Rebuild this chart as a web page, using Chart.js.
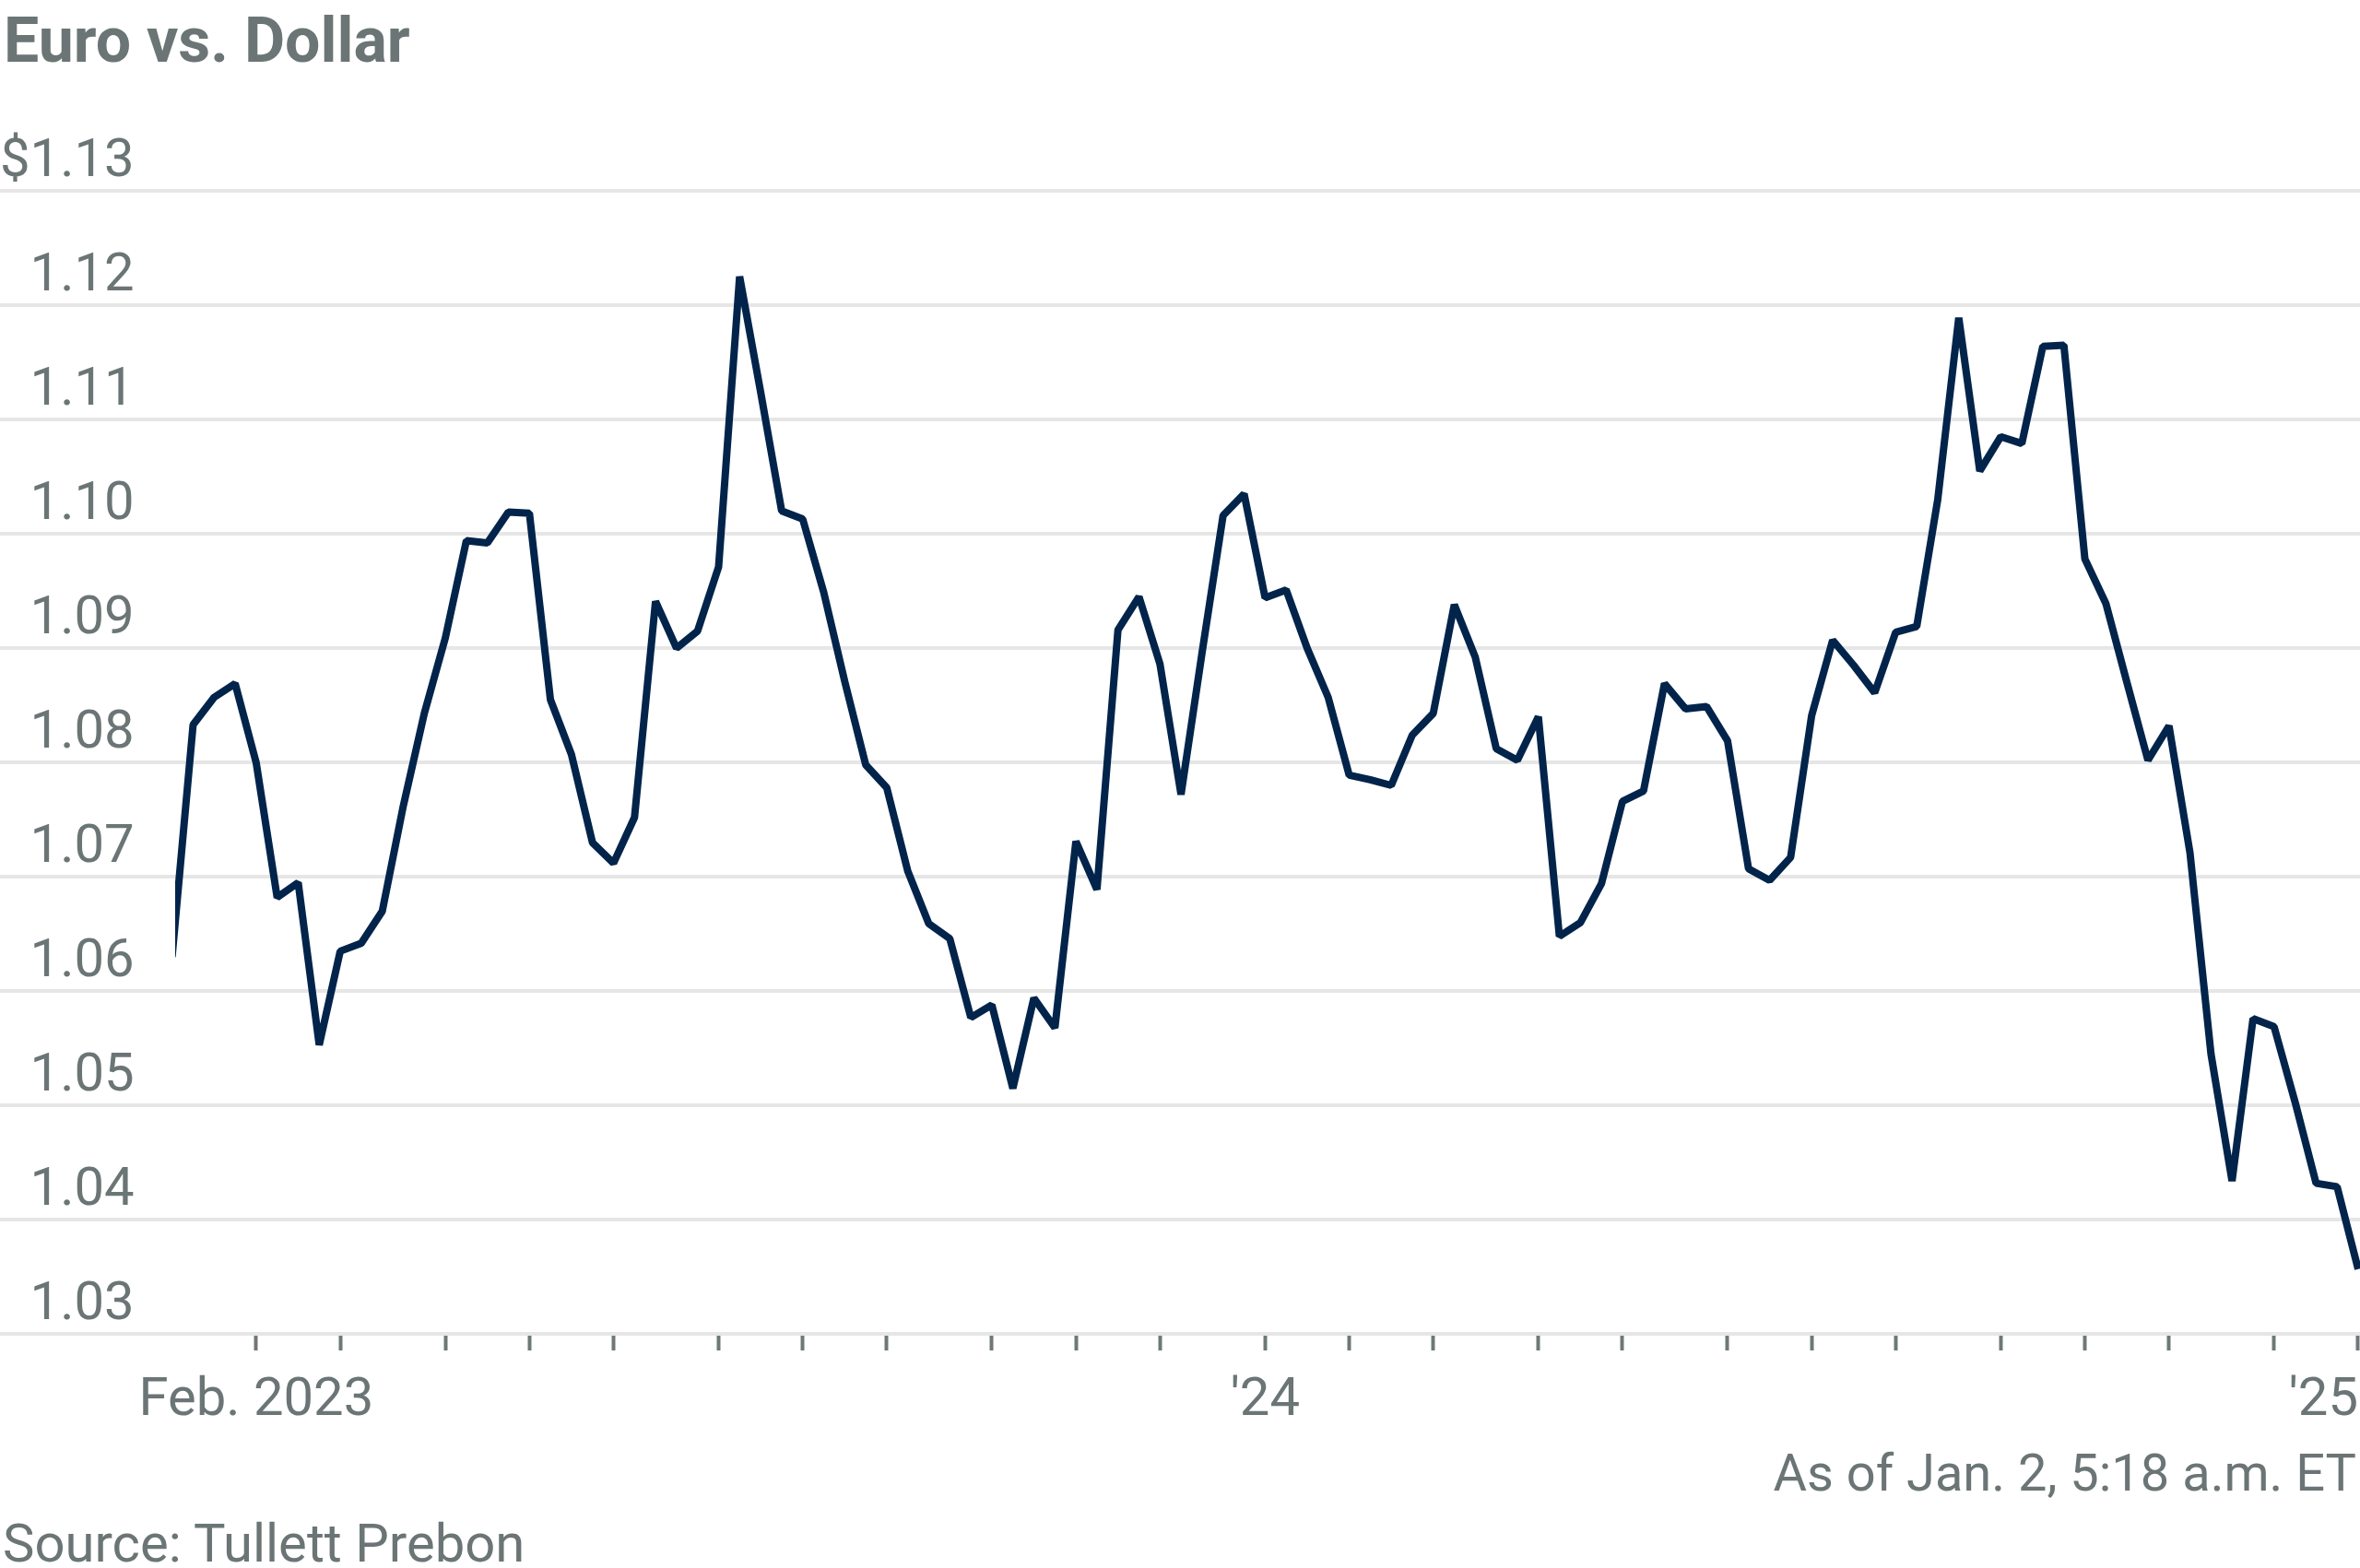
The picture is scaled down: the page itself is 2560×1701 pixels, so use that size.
<!DOCTYPE html>
<html>
<head>
<meta charset="utf-8">
<title>Euro vs. Dollar</title>
<script src="https://cdn.jsdelivr.net/npm/chart.js@4.4.1/dist/chart.umd.min.js"></script>
<style>
  html, body { margin: 0; padding: 0; background: #fff; }
  body { width: 2560px; height: 1701px; position: relative; overflow: hidden; font-family: Roboto, sans-serif; color: #6b7575; }
  #chart { position: absolute; left: 0; top: 0; }
  .txt { position: absolute; line-height: 1; white-space: nowrap; }
  #title { left: 4px; top: 10px; font-size: 68px; font-weight: 700; }
  #asof { right: 4px; top: 1570px; font-size: 56px; }
  #source { left: 3px; top: 1645px; font-size: 58px; }
</style>
</head>
<body>
<div id="title" class="txt">Euro vs. Dollar</div>
<canvas id="chart" width="2560" height="1701"></canvas>
<div id="asof" class="txt">As of Jan. 2, 5:18 a.m. ET</div>
<div id="source" class="txt">Source: Tullett Prebon</div>
<script>
// weekly readings, week 0 = Fri Jan 6 2023 ... week 104 = Jan 2 2025
const eurusd = [
  1.0630, 1.0833, 1.0857, 1.0869, 1.0800, 1.0682, 1.0695, 1.0553, 1.0635, 1.0642,
  1.0670, 1.0762, 1.0843, 1.0909, 1.0994, 1.0992, 1.1019, 1.1018, 1.0855, 1.0807,
  1.0730, 1.0712, 1.0752, 1.0941, 1.0900, 1.0915, 1.0971, 1.1225, 1.1124, 1.1020,
  1.1013, 1.0949, 1.0871, 1.0798, 1.0778, 1.0705, 1.0659, 1.0646, 1.0577, 1.0588,
  1.0515, 1.0594, 1.0568, 1.0731, 1.0689, 1.0916, 1.0945, 1.0886, 1.0772, 1.0896,
  1.1016, 1.1035, 1.0944, 1.0951, 1.0900, 1.0857, 1.0789, 1.0785, 1.0780, 1.0824,
  1.0843, 1.0938, 1.0892, 1.0812, 1.0802, 1.0840, 1.0648, 1.0660, 1.0694, 1.0766,
  1.0775, 1.0869, 1.0847, 1.0849, 1.0819, 1.0707, 1.0697, 1.0717, 1.0841, 1.0907,
  1.0885, 1.0861, 1.0914, 1.0919, 1.1030, 1.1189, 1.1055, 1.1085, 1.1079, 1.1164,
  1.1165, 1.0978, 1.0939, 1.0870, 1.0802, 1.0832, 1.0721, 1.0545, 1.0434, 1.0576,
  1.0569, 1.0503, 1.0432, 1.0429, 1.0357
];
const weekNo = eurusd.map((v, i) => i);

// first week of each month, Feb 2023 .. Jan 2025
const monthTicks = [4, 8, 13, 17, 21, 26, 30, 34, 39, 43, 47, 52,
  56, 60, 65, 69, 74, 78, 82, 87, 91, 95, 100, 104];
const monthLabels = { 4: "Feb. 2023", 52: "'24", 104: "'25" };
const yTicks = [1.03, 1.04, 1.05, 1.06, 1.07, 1.08, 1.09, 1.10, 1.11, 1.12, 1.13];

const gray = "#6b7575";
Chart.defaults.font.family = "Roboto";

function draw() {
  new Chart(document.getElementById("chart"), {
    type: "line",
    data: {
      datasets: [{
        data: weekNo.map((w, i) => ({ x: w, y: eurusd[i] })),
        borderColor: "#02244b",
        borderWidth: 8,
        borderJoinStyle: "bevel",
        pointRadius: 0,
        tension: 0,
        clip: { left: -190, top: false, right: false, bottom: false }
      }]
    },
    options: {
      responsive: false,
      animation: false,
      devicePixelRatio: 1,
      layout: { padding: { top: 207, bottom: 146, left: 0, right: 0 } },
      plugins: { legend: { display: false }, tooltip: { enabled: false } },
      scales: {
        x: {
          type: "linear",
          min: -8.186,
          max: 104.088,
          border: { display: false },
          grid: {
            drawOnChartArea: false,
            drawTicks: true,
            tickLength: 38,
            tickWidth: 4,
            tickColor: (c) => c.index === 0 ? "rgba(0,0,0,0)" : "#6f7878",
            tickBorderDash: [18, 100]
          },
          afterBuildTicks: (s) => {
            s.ticks = [{ value: s.min }].concat(monthTicks.map(v => ({ value: v })));
          },
          ticks: {
            autoSkip: false,
            maxRotation: 0,
            align: "inner",
            padding: 0,
            color: gray,
            font: { size: 58 },
            callback: (v) => monthLabels[v] || ""
          }
        },
        y: {
          min: 1.03,
          max: 1.13,
          border: { display: false },
          grid: { color: "#e6e6e6", lineWidth: 4, drawTicks: false },
          afterBuildTicks: (s) => { s.ticks = yTicks.map(v => ({ value: v })); },
          ticks: {
            mirror: true,
            padding: 0,
            crossAlign: "far",
            labelOffset: -31,
            color: gray,
            font: { size: 58 },
            callback: (v) => (v >= 1.1299 ? "$" : "") + v.toFixed(2)
          }
        }
      }
    }
  });
}

document.fonts.load("58px Roboto").then(draw, draw);
</script>
</body>
</html>
